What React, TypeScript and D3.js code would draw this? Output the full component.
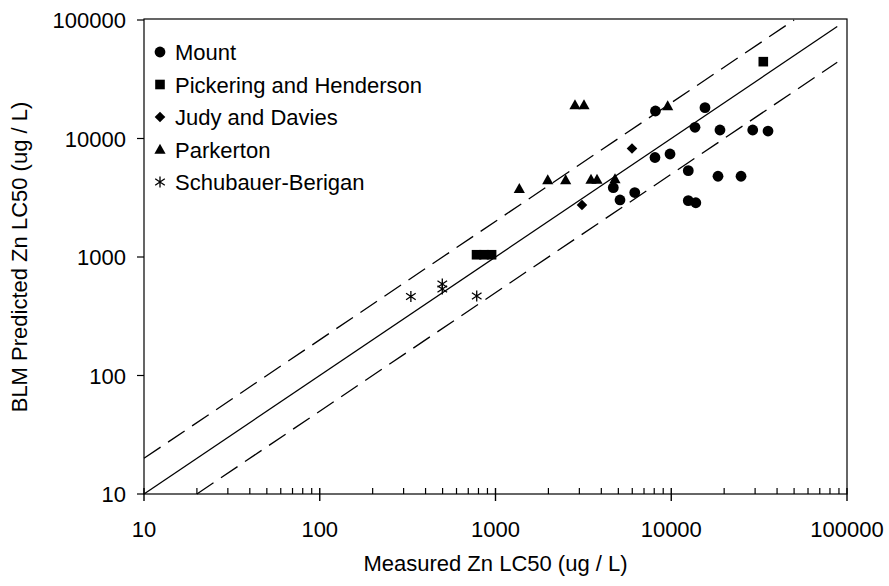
import React from "react";
import * as d3 from "d3";

const W = 889;
const H = 586;

const mountX = [4680, 5110, 6200, 8130, 8080, 9840, 12500, 12500, 13800, 13650, 15560, 18450, 18930, 24950, 29080, 35530];
const mountY = [3845, 3030, 3500, 17060, 6910, 7400, 5350, 2990, 2870, 12430, 18200, 4800, 11800, 4800, 11800, 11560];

const pickX = [33400, 780, 860, 950];
const pickY = [44500, 1045, 1045, 1045];

const judyX = [3105, 5980];
const judyY = [2750, 8240];

const parkX = [2833, 3188, 1366, 1983, 2508, 3495, 3780, 4786, 9545];
const parkY = [19180, 19180, 3770, 4465, 4465, 4510, 4510, 4550, 18800];

const schubX = [330, 498, 498, 782];
const schubY = [464, 592, 537, 469];

const oneToOneX = [10, 88000];
const oneToOneY = [10, 88000];
const upperX = [10, 50000];
const upperY = [20, 100000];
const lowerX = [20, 88000];
const lowerY = [10, 44000];

const majorTicks = [10, 100, 1000, 10000, 100000];
const legendLabels = ["Mount", "Pickering and Henderson", "Judy and Davies", "Parkerton", "Schubauer-Berigan"];

const xTitle = "Measured Zn LC50 (ug / L)";
const yTitle = "BLM Predicted Zn LC50 (ug / L)";

const FONT = "'Liberation Sans', Arial, sans-serif";

const left = 144, right = 847, top = 20, bottom = 494;

function Marker({ type, x, y }: { type: string; x: number; y: number }) {
  if (type === "circle") return <circle cx={x} cy={y} r={5.4} fill="#000" />;
  if (type === "square") return <rect x={x - 4.8} y={y - 4.8} width={9.6} height={9.6} fill="#000" />;
  if (type === "diamond")
    return <path d={`M${x},${y - 5.3}L${x + 5.3},${y}L${x},${y + 5.3}L${x - 5.3},${y}Z`} fill="#000" />;
  if (type === "triangle")
    return <path d={`M${x},${y - 5.8}L${x + 5.6},${y + 4.2}L${x - 5.6},${y + 4.2}Z`} fill="#000" />;
  return (
    <path
      d={`M${x},${y - 5.5}L${x},${y + 5.5}M${x - 4.8},${y - 3.2}L${x + 4.8},${y + 3.2}M${x - 4.8},${y + 3.2}L${x + 4.8},${y - 3.2}`}
      stroke="#000"
      strokeWidth={1.3}
      fill="none"
    />
  );
}

export default function App() {
  const x = d3.scaleLog().domain([10, 100000]).range([left, right]);
  const y = d3.scaleLog().domain([10, 100000]).range([bottom, top]);
  const line = d3.line<[number, number]>().x((d) => x(d[0])).y((d) => y(d[1]));
  const zip = (a: number[], b: number[]) => a.map((v, i) => [v, b[i]] as [number, number]);

  const minorTicks: number[] = [];
  for (let e = 1; e < 5; e++) {
    for (let m = 2; m <= 9; m++) minorTicks.push(m * Math.pow(10, e));
  }

  const series = [
    { type: "circle", xs: mountX, ys: mountY },
    { type: "square", xs: pickX, ys: pickY },
    { type: "diamond", xs: judyX, ys: judyY },
    { type: "triangle", xs: parkX, ys: parkY },
    { type: "asterisk", xs: schubX, ys: schubY },
  ];
  const legendTypes = ["circle", "square", "diamond", "triangle", "asterisk"];

  return (
    <svg
      width={W}
      height={H}
      style={{ position: "absolute", left: 0, top: 0, background: "#fff" }}
      fontFamily={FONT}
    >
      <rect x={0} y={0} width={W} height={H} fill="#fff" />
      <rect x={left} y={top - 1} width={right - left} height={bottom - top + 1} fill="none" stroke="#000" strokeWidth={1.2} />

      <path d={line(zip(oneToOneX, oneToOneY)) || ""} stroke="#000" strokeWidth={1.3} fill="none" />
      <path d={line(zip(upperX, upperY)) || ""} stroke="#000" strokeWidth={1.3} fill="none" strokeDasharray="20,9" />
      <path d={line(zip(lowerX, lowerY)) || ""} stroke="#000" strokeWidth={1.3} fill="none" strokeDasharray="20,9" />

      {minorTicks.map((t) => (
        <line key={"mx" + t} x1={x(t)} x2={x(t)} y1={bottom} y2={bottom - 6} stroke="#000" strokeWidth={1.2} />
      ))}
      {majorTicks.map((t) => (
        <g key={"x" + t}>
          <line x1={x(t)} x2={x(t)} y1={bottom - 6} y2={bottom + 7} stroke="#000" strokeWidth={1.4} />
          <text x={x(t)} y={537} textAnchor="middle" fontSize={22} fill="#000">
            {t}
          </text>
        </g>
      ))}
      {majorTicks.map((t) => (
        <g key={"y" + t}>
          <line x1={left - 7} x2={left} y1={y(t)} y2={y(t)} stroke="#000" strokeWidth={1.2} />
          <text x={126} y={y(t) + 8} textAnchor="end" fontSize={22} fill="#000">
            {t}
          </text>
        </g>
      ))}

      <text x={(left + right) / 2} y={571} textAnchor="middle" fontSize={22} fill="#000">
        {xTitle}
      </text>
      <text
        transform={`translate(27,${(top + bottom) / 2}) rotate(-90)`}
        textAnchor="middle"
        fontSize={22}
        fill="#000"
      >
        {yTitle}
      </text>

      {series.map((s) =>
        s.xs.map((v, i) => <Marker key={s.type + i} type={s.type} x={x(v)} y={y(s.ys[i])} />)
      )}

      {legendLabels.map((lab, i) => (
        <g key={lab}>
          <Marker type={legendTypes[i]} x={160} y={52 + i * 32.5} />
          <text x={175} y={52 + i * 32.5 + 8} fontSize={22} fill="#000">
            {lab}
          </text>
        </g>
      ))}
    </svg>
  );
}
